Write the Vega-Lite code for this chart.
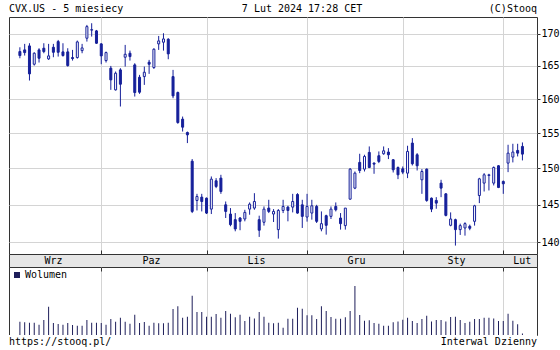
{
  "$schema": "https://vega.github.io/schema/vega-lite/v6.json",
  "padding": {"left": 8, "top": 0, "right": 0, "bottom": 0},
  "background": "white",
  "spacing": 0,
  "bounds": "flush",
  "resolve": {"scale": {"x": "independent", "y": "independent", "color": "independent"}},
  "config": {
    "font": "DejaVu Sans Mono",
    "text": {"font": "DejaVu Sans Mono", "fontSize": 10, "fill": "#000"},
    "axis": {"labelFont": "DejaVu Sans Mono", "labelFontSize": 10, "labelColor": "#000"},
    "view": {"stroke": "#333"}
  },
  "datasets": {
    "candles": [
      {"i":0,"o":167.23,"h":167.90,"l":166.19,"c":166.61,"v":8.8},
      {"i":1,"o":167.49,"h":168.43,"l":166.61,"c":167.07,"v":8.4},
      {"i":2,"o":168.11,"h":168.53,"l":162.78,"c":163.79,"v":8.1},
      {"i":3,"o":165.27,"h":167.12,"l":165.06,"c":166.97,"v":8.1},
      {"i":4,"o":167.49,"h":167.75,"l":165.53,"c":166.19,"v":6.8},
      {"i":5,"o":167.75,"h":168.53,"l":166.97,"c":167.23,"v":9.9},
      {"i":6,"o":166.09,"h":168.43,"l":165.94,"c":166.56,"v":18.7},
      {"i":7,"o":167.90,"h":168.43,"l":166.35,"c":167.12,"v":7.9},
      {"i":8,"o":168.79,"h":169.05,"l":166.45,"c":167.12,"v":7.3},
      {"i":9,"o":167.18,"h":168.53,"l":166.45,"c":166.61,"v":6.8},
      {"i":10,"o":167.18,"h":167.75,"l":164.91,"c":165.06,"v":7.9},
      {"i":11,"o":166.30,"h":167.49,"l":165.83,"c":166.14,"v":6.6},
      {"i":12,"o":166.30,"h":168.95,"l":166.14,"c":168.74,"v":6.1},
      {"i":13,"o":167.38,"h":168.43,"l":166.97,"c":167.80,"v":6.1},
      {"i":14,"o":169.32,"h":171.43,"l":168.79,"c":171.16,"v":9.9},
      {"i":15,"o":170.60,"h":171.70,"l":169.58,"c":170.68,"v":8.1},
      {"i":16,"o":170.48,"h":170.63,"l":168.43,"c":168.53,"v":8.1},
      {"i":17,"o":168.43,"h":168.53,"l":165.27,"c":166.56,"v":7.9},
      {"i":18,"o":165.83,"h":167.23,"l":165.53,"c":167.07,"v":6.8},
      {"i":19,"o":164.66,"h":165.01,"l":161.37,"c":162.88,"v":10.6},
      {"i":20,"o":161.37,"h":164.15,"l":161.27,"c":163.89,"v":8.8},
      {"i":21,"o":164.40,"h":164.66,"l":158.89,"c":162.22,"v":11.4},
      {"i":22,"o":166.35,"h":168.27,"l":164.91,"c":166.81,"v":8.8},
      {"i":23,"o":166.97,"h":167.38,"l":165.83,"c":166.45,"v":7.5},
      {"i":24,"o":165.17,"h":165.42,"l":160.37,"c":160.97,"v":13.4},
      {"i":25,"o":163.28,"h":163.64,"l":160.77,"c":161.02,"v":7.9},
      {"i":26,"o":163.38,"h":164.91,"l":162.12,"c":164.04,"v":8.6},
      {"i":27,"o":165.58,"h":165.94,"l":163.79,"c":165.27,"v":6.1},
      {"i":28,"o":164.76,"h":167.75,"l":164.55,"c":167.59,"v":8.1},
      {"i":29,"o":168.43,"h":169.68,"l":167.49,"c":168.90,"v":7.7},
      {"i":30,"o":168.69,"h":170.11,"l":167.38,"c":169.21,"v":7.7},
      {"i":31,"o":169.16,"h":169.32,"l":166.04,"c":166.87,"v":8.1},
      {"i":32,"o":163.38,"h":164.40,"l":160.12,"c":160.47,"v":17.2},
      {"i":33,"o":160.97,"h":161.12,"l":156.35,"c":156.54,"v":19.1},
      {"i":34,"o":157.03,"h":157.41,"l":155.23,"c":155.86,"v":11.4},
      {"i":35,"o":155.09,"h":155.23,"l":153.57,"c":154.75,"v":12.1},
      {"i":36,"o":151.0,"h":151.3,"l":143.88,"c":144.10,"v":25.9},
      {"i":37,"o":145.58,"h":146.48,"l":144.23,"c":146.12,"v":15.2},
      {"i":38,"o":146.03,"h":146.48,"l":144.10,"c":145.44,"v":15.2},
      {"i":39,"o":145.89,"h":145.98,"l":143.75,"c":143.88,"v":12.1},
      {"i":40,"o":144.41,"h":148.87,"l":143.75,"c":148.50,"v":12.1},
      {"i":41,"o":148.27,"h":148.64,"l":147.26,"c":147.49,"v":13.9},
      {"i":42,"o":148.64,"h":149.10,"l":146.48,"c":146.80,"v":11.4},
      {"i":43,"o":144.99,"h":145.44,"l":143.22,"c":144.10,"v":15.8},
      {"i":44,"o":143.75,"h":144.55,"l":142.12,"c":142.34,"v":14.1},
      {"i":45,"o":143.00,"h":143.88,"l":141.46,"c":141.77,"v":11.7},
      {"i":46,"o":143.22,"h":143.35,"l":141.60,"c":142.78,"v":13.4},
      {"i":47,"o":143.09,"h":144.32,"l":142.78,"c":143.97,"v":9.2},
      {"i":48,"o":144.41,"h":145.31,"l":143.66,"c":145.08,"v":12.1},
      {"i":49,"o":144.55,"h":146.57,"l":144.32,"c":145.44,"v":11.0},
      {"i":50,"o":143.00,"h":143.53,"l":140.72,"c":141.60,"v":15.2},
      {"i":51,"o":142.65,"h":144.77,"l":142.21,"c":144.41,"v":12.1},
      {"i":52,"o":144.55,"h":145.67,"l":143.88,"c":144.10,"v":8.1},
      {"i":53,"o":143.75,"h":144.41,"l":142.69,"c":144.10,"v":7.7},
      {"i":54,"o":141.68,"h":144.41,"l":140.50,"c":144.23,"v":8.1},
      {"i":55,"o":144.23,"h":145.67,"l":143.88,"c":144.77,"v":4.8},
      {"i":56,"o":144.68,"h":144.86,"l":142.78,"c":144.23,"v":10.8},
      {"i":57,"o":144.68,"h":146.48,"l":143.97,"c":145.44,"v":10.8},
      {"i":58,"o":146.39,"h":146.57,"l":143.79,"c":143.88,"v":18.0},
      {"i":59,"o":144.99,"h":145.67,"l":141.90,"c":143.44,"v":17.4},
      {"i":60,"o":143.35,"h":146.48,"l":142.74,"c":144.77,"v":13.0},
      {"i":61,"o":143.88,"h":145.67,"l":143.00,"c":144.86,"v":13.0},
      {"i":62,"o":144.77,"h":144.99,"l":142.56,"c":142.78,"v":10.6},
      {"i":63,"o":141.77,"h":144.10,"l":141.46,"c":142.47,"v":19.1},
      {"i":64,"o":143.53,"h":143.66,"l":141.02,"c":142.25,"v":15.8},
      {"i":65,"o":143.44,"h":144.77,"l":143.09,"c":144.41,"v":11.9},
      {"i":66,"o":144.77,"h":145.31,"l":144.10,"c":144.32,"v":10.8},
      {"i":67,"o":143.22,"h":143.88,"l":141.68,"c":142.47,"v":10.8},
      {"i":68,"o":142.21,"h":144.55,"l":141.68,"c":144.55,"v":11.7},
      {"i":69,"o":145.76,"h":150.03,"l":145.67,"c":149.89,"v":15.8},
      {"i":70,"o":147.26,"h":149.56,"l":147.12,"c":149.33,"v":32.5},
      {"i":71,"o":150.83,"h":152.05,"l":149.33,"c":149.70,"v":13.2},
      {"i":72,"o":149.89,"h":151.91,"l":149.56,"c":151.67,"v":9.4},
      {"i":73,"o":152.24,"h":153.09,"l":150.03,"c":150.12,"v":9.7},
      {"i":74,"o":150.73,"h":150.83,"l":149.24,"c":150.59,"v":7.9},
      {"i":75,"o":151.77,"h":152.38,"l":150.73,"c":150.97,"v":7.5},
      {"i":76,"o":152.05,"h":153.09,"l":151.91,"c":152.47,"v":6.1},
      {"i":77,"o":152.29,"h":152.85,"l":151.30,"c":151.91,"v":6.1},
      {"i":78,"o":151.20,"h":151.30,"l":149.42,"c":149.80,"v":8.4},
      {"i":79,"o":150.12,"h":150.26,"l":148.50,"c":149.10,"v":9.0},
      {"i":80,"o":149.94,"h":150.26,"l":149.19,"c":149.47,"v":10.1},
      {"i":81,"o":149.33,"h":153.19,"l":148.64,"c":152.38,"v":11.4},
      {"i":82,"o":153.57,"h":154.28,"l":150.40,"c":150.64,"v":9.2},
      {"i":83,"o":151.91,"h":152.14,"l":149.70,"c":150.36,"v":7.9},
      {"i":84,"o":148.41,"h":149.89,"l":146.48,"c":149.56,"v":10.6},
      {"i":85,"o":149.89,"h":149.98,"l":145.40,"c":145.58,"v":12.7},
      {"i":86,"o":145.89,"h":145.98,"l":144.01,"c":144.41,"v":9.0},
      {"i":87,"o":145.58,"h":146.03,"l":144.46,"c":145.22,"v":9.9},
      {"i":88,"o":147.95,"h":148.41,"l":146.03,"c":147.26,"v":9.9},
      {"i":89,"o":146.48,"h":146.57,"l":143.44,"c":143.57,"v":9.0},
      {"i":90,"o":142.25,"h":143.97,"l":142.12,"c":143.09,"v":11.9},
      {"i":91,"o":143.00,"h":143.13,"l":139.59,"c":141.68,"v":12.1},
      {"i":92,"o":141.68,"h":142.47,"l":140.98,"c":142.21,"v":9.9},
      {"i":93,"o":141.90,"h":142.65,"l":140.89,"c":142.47,"v":7.9},
      {"i":94,"o":142.12,"h":142.34,"l":141.60,"c":141.86,"v":8.8},
      {"i":95,"o":142.78,"h":144.99,"l":142.21,"c":144.86,"v":10.6},
      {"i":96,"o":146.25,"h":148.68,"l":145.22,"c":148.54,"v":10.6},
      {"i":97,"o":147.95,"h":149.33,"l":146.80,"c":149.10,"v":11.4},
      {"i":98,"o":149.00,"h":149.24,"l":146.94,"c":149.10,"v":11.4},
      {"i":99,"o":147.95,"h":150.26,"l":147.63,"c":150.12,"v":11.0},
      {"i":100,"o":150.36,"h":150.45,"l":147.26,"c":147.35,"v":9.2},
      {"i":101,"o":148.18,"h":148.31,"l":146.48,"c":147.86,"v":9.2},
      {"i":102,"o":150.73,"h":153.33,"l":149.47,"c":152.14,"v":14.1},
      {"i":103,"o":151.58,"h":153.47,"l":150.83,"c":152.29,"v":9.4},
      {"i":104,"o":152.52,"h":153.47,"l":151.67,"c":152.14,"v":7.1},
      {"i":105,"o":153.09,"h":153.66,"l":151.11,"c":152.00,"v":1.0}
    ],
    "months": [
      {"m":"Wrz","mid":7.9},
      {"m":"Paz","mid":28},
      {"m":"Lis","mid":49.5},
      {"m":"Gru","mid":70},
      {"m":"Sty","mid":90.5},
      {"m":"Lut","mid":104}
    ]
  },
  "vconcat": [
    {
      "width": 528,
      "height": 17,
      "view": {"stroke": null, "fill": "white"},
      "data": {"values": [{"t": "CVX.US - 5 miesiecy"}, {"t": "7 Lut 2024 17:28 CET"}, {"t": "(C)Stooq"}]},
      "layer": [
        {
          "transform": [{"filter": "datum.t == 'CVX.US - 5 miesiecy'"}],
          "mark": {"type": "text", "align": "left", "baseline": "middle"},
          "encoding": {
            "x": {"datum": 0, "type": "quantitative", "scale": {"domain": [0, 1], "nice": false, "zero": false}, "axis": null},
            "text": {"field": "t"}
          }
        },
        {
          "transform": [{"filter": "datum.t == '7 Lut 2024 17:28 CET'"}],
          "mark": {"type": "text", "align": "center", "baseline": "middle"},
          "encoding": {
            "x": {"datum": 0.555, "type": "quantitative"},
            "text": {"field": "t"}
          }
        },
        {
          "transform": [{"filter": "datum.t == '(C)Stooq'"}],
          "mark": {"type": "text", "align": "right", "baseline": "middle"},
          "encoding": {
            "x": {"datum": 1.0, "type": "quantitative"},
            "text": {"field": "t"}
          }
        }
      ]
    },
    {
      "width": 528,
      "height": 237,
      "data": {"name": "candles"},
      "encoding": {
        "x": {
          "field": "i", "type": "quantitative",
          "scale": {"domain": [-1.23, 107], "nice": false, "zero": false},
          "axis": {"orient": "bottom", "values": [17, 39, 60, 80, 101], "grid": true, "gridColor": "#d4d4d4", "labels": false, "ticks": true, "tickSize": -4, "tickColor": "#333", "domain": false, "title": null}
        }
      },
      "layer": [
        {
          "mark": {"type": "rule", "color": "#16209a", "strokeWidth": 1},
          "encoding": {
            "y": {
              "field": "l", "type": "quantitative",
              "scale": {"type": "log", "domain": [138.5, 172.7], "nice": false, "zero": false},
              "axis": {"orient": "right", "values": [140, 145, 150, 155, 160, 165, 170], "grid": true, "gridColor": "#d4d4d4", "domain": false, "tickSize": 3, "tickColor": "#333", "labelPadding": 1, "title": null}
            },
            "y2": {"field": "h"}
          }
        },
        {
          "mark": {"type": "bar", "size": 2, "stroke": "#16209a", "strokeWidth": 1},
          "encoding": {
            "y": {"field": "o", "type": "quantitative"},
            "y2": {"field": "c"},
            "fill": {"condition": {"test": "datum.c >= datum.o", "value": "white"}, "value": "#16209a"}
          }
        }
      ]
    },
    {
      "width": 528,
      "height": 13,
      "view": {"fill": "#e6e6e6", "stroke": "#333"},
      "data": {"name": "months"},
      "mark": {"type": "text", "baseline": "middle", "align": "center"},
      "encoding": {
        "x": {"field": "mid", "type": "quantitative", "scale": {"domain": [-1.23, 107], "nice": false, "zero": false}, "axis": null},
        "text": {"field": "m"}
      }
    },
    {
      "width": 528,
      "height": 68,
      "data": {"name": "candles"},
      "mark": {"type": "bar", "size": 1},
      "encoding": {
        "x": {
          "field": "i", "type": "quantitative",
          "scale": {"domain": [-1.23, 107], "nice": false, "zero": false},
          "axis": {"orient": "top", "values": [17, 39, 60, 80, 101], "grid": true, "gridColor": "#d4d4d4", "labels": false, "ticks": true, "tickSize": -4, "tickColor": "#333", "domain": false, "title": null}
        },
        "y": {"field": "v", "type": "quantitative", "scale": {"domain": [0, 45], "nice": false}, "axis": null},
        "color": {
          "datum": "Wolumen", "type": "nominal",
          "scale": {"range": ["#1e1e5a"]},
          "legend": {"orient": "top-left", "title": null, "symbolType": "square", "symbolSize": 36, "offset": 3, "padding": 0, "labelFont": "DejaVu Sans Mono", "labelFontSize": 10, "labelColor": "#000", "labelOffset": 3, "symbolStrokeWidth": 0}
        }
      }
    },
    {
      "width": 528,
      "height": 14,
      "view": {"stroke": null, "fill": "white"},
      "data": {"values": [{"t": "https://stooq.pl/"}, {"t": "Interwal Dzienny"}]},
      "layer": [
        {
          "transform": [{"filter": "datum.t == 'https://stooq.pl/'"}],
          "mark": {"type": "text", "align": "left", "baseline": "middle"},
          "encoding": {
            "x": {"datum": 0, "type": "quantitative", "scale": {"domain": [0, 1], "nice": false, "zero": false}, "axis": null},
            "text": {"field": "t"}
          }
        },
        {
          "transform": [{"filter": "datum.t == 'Interwal Dzienny'"}],
          "mark": {"type": "text", "align": "right", "baseline": "middle"},
          "encoding": {
            "x": {"datum": 1.0, "type": "quantitative"},
            "text": {"field": "t"}
          }
        }
      ]
    }
  ]
}
